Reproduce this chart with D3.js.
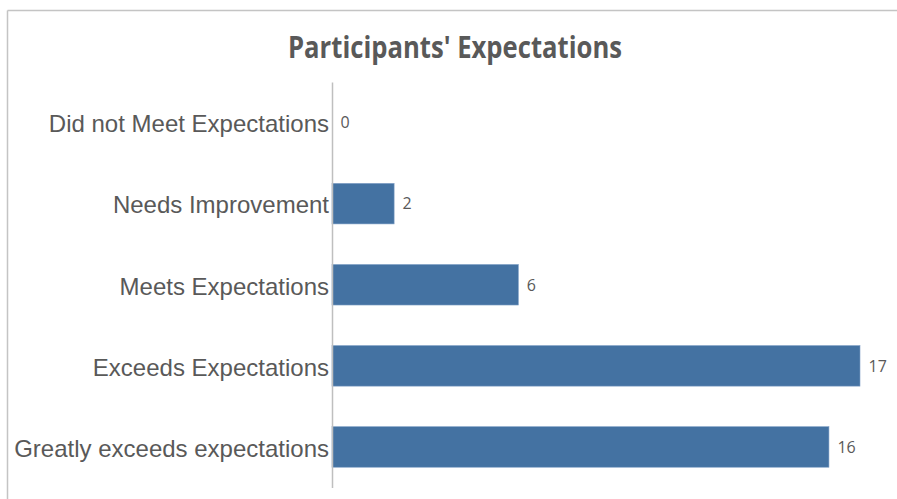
<!DOCTYPE html>
<html>
<head>
<meta charset="utf-8">
<script src="https://cdn.jsdelivr.net/npm/d3@7/dist/d3.min.js"></script>
<style>
  html, body { margin: 0; padding: 0; background: #fff; }
  svg { display: block; }
</style>
</head>
<body>
<svg id="chart" width="897" height="499"></svg>
<script>
const categories = [
  "Did not Meet Expectations",
  "Needs Improvement",
  "Meets Expectations",
  "Exceeds Expectations",
  "Greatly exceeds expectations"
];
const values = [0, 2, 6, 17, 16];
const title = "Participants' Expectations";

const W = 897, H = 499;
const svg = d3.select("#chart");

// chart area border (top and left visible)
svg.append("line").attr("x1", 7.5).attr("x2", W).attr("y1", 10.5).attr("y2", 10.5)
  .attr("stroke", "#c4c4c4").attr("stroke-width", 1.5);
svg.append("line").attr("x1", 7.5).attr("x2", 7.5).attr("y1", 10.5).attr("y2", H)
  .attr("stroke", "#c4c4c4").attr("stroke-width", 1.5);

const x = d3.scaleLinear().domain([0, 17]).range([332, 860]);
const y = d3.scaleBand().domain(categories).range([82, 487.5]).paddingInner(0.5).paddingOuter(0.25);

svg.append("text")
  .attr("x", 455).attr("y", 57.5)
  .attr("text-anchor", "middle")
  .attr("font-family", "'Open Sans', sans-serif")
  .attr("font-weight", "bold")
  .attr("font-size", 29.5)
  .attr("textLength", 334)
  .attr("lengthAdjust", "spacingAndGlyphs")
  .attr("fill", "#595959")
  .text(title);

svg.selectAll("rect.bar")
  .data(values)
  .enter().append("rect")
  .attr("class", "bar")
  .attr("x", x(0))
  .attr("y", (d, i) => y(categories[i]))
  .attr("width", d => x(d) - x(0))
  .attr("height", y.bandwidth())
  .attr("fill", "#4472a2")
  .attr("stroke", "#7f9fc6")
  .attr("stroke-width", 0.6);

const yAxis = d3.axisLeft(y).tickSize(0).tickPadding(3);
const ga = svg.append("g").attr("transform", `translate(${x(0)},0)`).call(yAxis);
ga.select(".domain").attr("stroke", "#bfbfbf").attr("stroke-width", 1.5);
ga.selectAll("text")
  .attr("font-family", "'Liberation Sans', Arial, sans-serif")
  .attr("font-size", 24)
  .attr("dy", "0.41em")
  .attr("fill", "#595959");

svg.selectAll("text.val")
  .data(values)
  .enter().append("text")
  .attr("class", "val")
  .attr("x", d => x(d) + 8.5)
  .attr("y", (d, i) => y(categories[i]) + y.bandwidth() / 2)
  .attr("dy", "0.36em")
  .attr("font-family", "'Open Sans', sans-serif")
  .attr("font-size", 16)
  .attr("fill", "#595959")
  .text(d => d);
</script>
</body>
</html>
